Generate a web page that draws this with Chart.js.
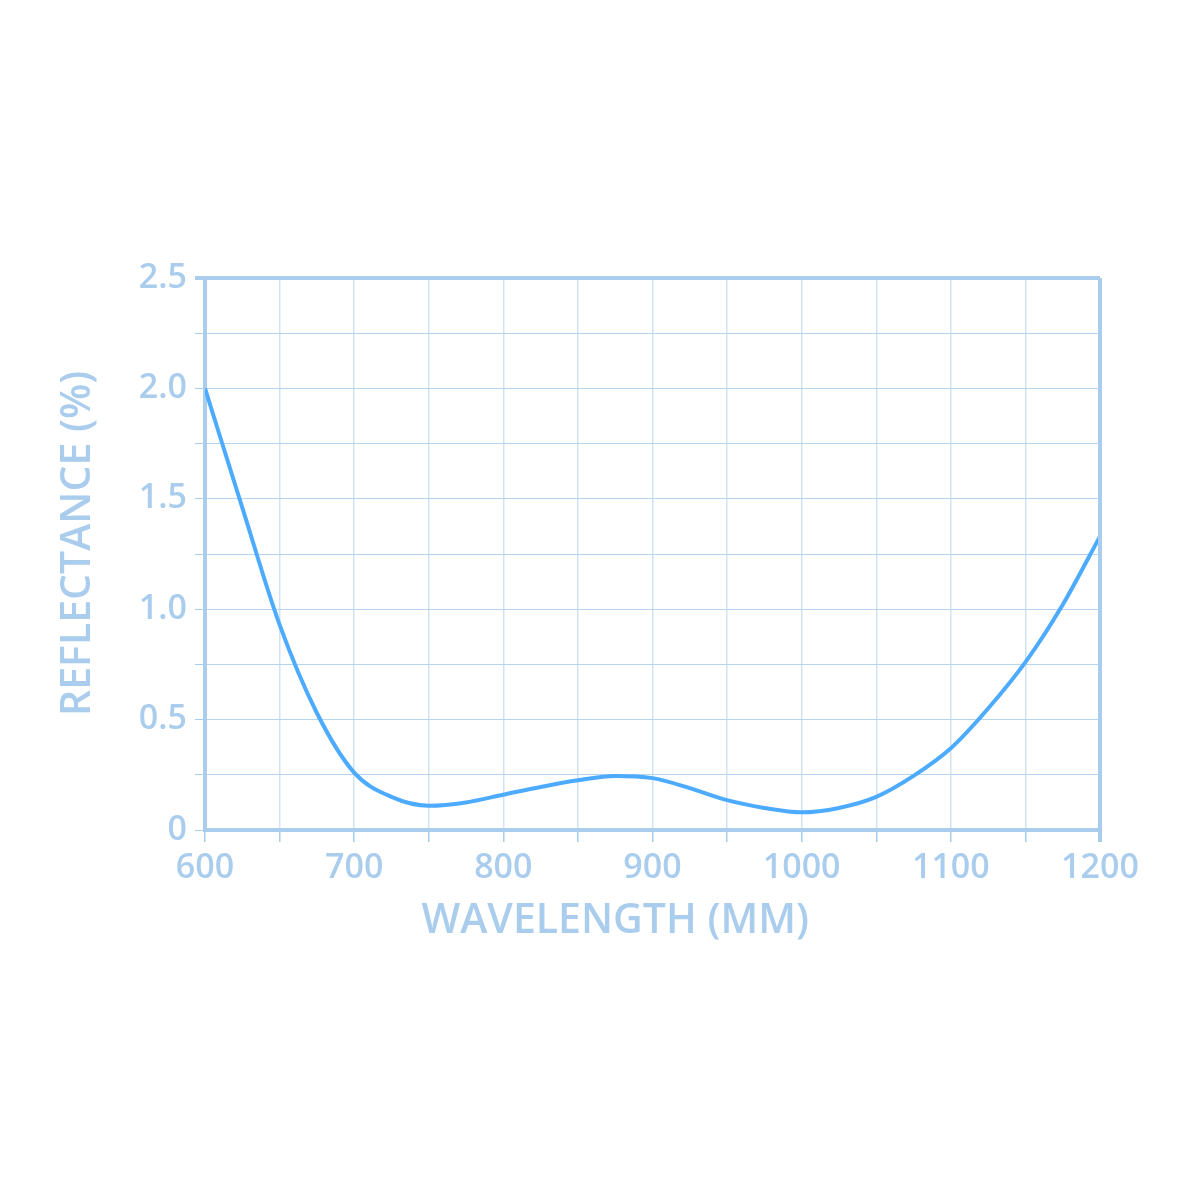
<!DOCTYPE html>
<html>
<head>
<meta charset="utf-8">
<script src="https://cdn.jsdelivr.net/npm/chart.js@4.4.1/dist/chart.umd.min.js"></script>
<style>
  html, body { margin: 0; padding: 0; background: #fff; }
  #wrap { width: 1200px; height: 1200px; }
</style>
</head>
<body>
<div id="wrap"><canvas id="reflectance"></canvas></div>
<script>
var wavelengths = [600, 625, 650, 675, 700, 725, 750, 775, 800, 825, 850, 875, 900, 925, 950, 975, 1000, 1025, 1050, 1075, 1100, 1125, 1150, 1175, 1200]
var reflectance = [2.0, 1.46, 0.93, 0.53, 0.26, 0.15, 0.11, 0.125, 0.16, 0.195, 0.225, 0.245, 0.235, 0.19, 0.135, 0.10, 0.08, 0.10, 0.15, 0.245, 0.37, 0.55, 0.76, 1.02, 1.33]
var axisColor = '#aacdee'
var lineColor = '#4dabff'
var fontFamily = "'Open Sans', 'Noto Sans', sans-serif"

// top + right frame lines
var framePlugin = {
    id: 'frame',
    afterDraw: function(chart) {
        var a = chart.chartArea, c = chart.ctx
        c.save()
        c.strokeStyle = axisColor
        c.lineWidth = 4
        c.beginPath()
        c.moveTo(a.left - 10, a.top)
        c.lineTo(a.right, a.top)
        c.moveTo(a.right, a.top)
        c.lineTo(a.right, a.bottom + 12)
        c.stroke()
        c.restore()
    }
}

var ctx = document.getElementById('reflectance')
var chartLine = new Chart(ctx, {
    type: 'scatter',
    data: {
        datasets: [{
            data: wavelengths.map(function(w, i) { return {x: w, y: reflectance[i]} }),
            showLine: true,
            borderColor: lineColor,
            borderWidth: 4,
            pointRadius: 0,
            cubicInterpolationMode: 'monotone',
            fill: false
        }]
    },
    options: {
        responsive: true,
        maintainAspectRatio: false,
        animation: false,
        layout: { padding: { top: 278, right: 100, left: 50, bottom: 250 } },
        plugins: { legend: { display: false }, tooltip: { enabled: false } },
        scales: {
            x: {
                type: 'linear',
                min: 600,
                max: 1200,
                afterFit: function(s) { s.height = 120 },
                border: { color: axisColor, width: 4 },
                grid: {
                    color: '#cfe3f5',
                    lineWidth: 1.5,
                    tickLength: 12,
                    tickColor: axisColor
                },
                ticks: {
                    stepSize: 50,
                    padding: 6,
                    maxRotation: 0,
                    minRotation: 0,
                    autoSkip: false,
                    color: axisColor,
                    font: { family: fontFamily, size: 34, weight: '600' },
                    callback: function(value) { return value % 100 === 0 ? value : '' }
                },
                title: {
                    display: true,
                    text: 'WAVELENGTH (MM)\u00a0\u00a0\u00a0\u00a0\u00a0\u00a0\u00a0',
                    color: axisColor,
                    padding: { top: 0 },
                    font: { family: fontFamily, size: 41, weight: '600' }
                }
            },
            y: {
                min: 0,
                max: 2.5,
                afterFit: function(s) { s.width = 155 },
                border: { color: axisColor, width: 4 },
                grid: {
                    color: '#b4d4f0',
                    lineWidth: 1,
                    tickLength: 10,
                    tickColor: axisColor
                },
                ticks: {
                    stepSize: 0.25,
                    padding: 8,
                    color: axisColor,
                    font: { family: fontFamily, size: 34, weight: '600' },
                    callback: function(value) {
                        if (Math.abs(value * 2 - Math.round(value * 2)) > 1e-6) return ''
                        return value === 0 ? '0' : value.toFixed(1)
                    }
                },
                title: {
                    display: true,
                    text: '\u00a0\u00a0REFLECTANCE (%)',
                    color: axisColor,
                    padding: { bottom: 4 },
                    font: { family: fontFamily, size: 41, weight: '600' }
                }
            }
        }
    },
    plugins: [framePlugin]
})
</script>
</body>
</html>
